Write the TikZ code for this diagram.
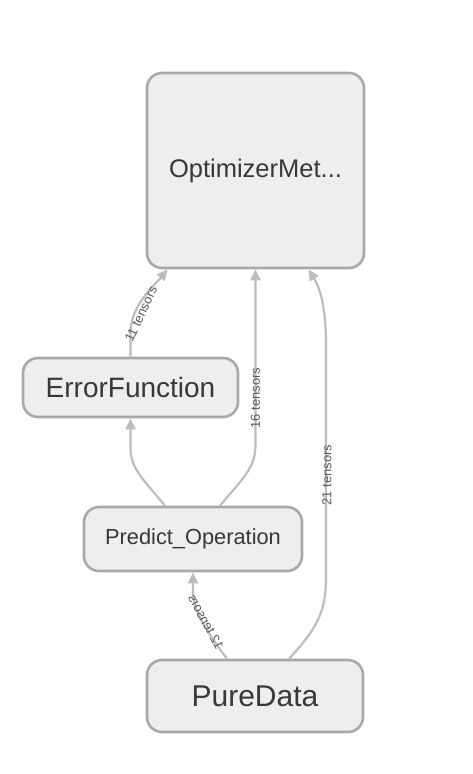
\documentclass[tikz,border=0pt]{standalone}
\usepackage{fontspec}
\setmainfont{Liberation Sans}
\usetikzlibrary{arrows.meta}
\definecolor{boxfill}{HTML}{EEEEEE}
\definecolor{boxline}{HTML}{A9A9A9}
\definecolor{edgecol}{HTML}{BDBDBD}
\definecolor{txtcol}{HTML}{383838}
\definecolor{lblcol}{HTML}{5A5A5A}
\tikzset{
  opbox/.style={draw=boxline, fill=boxfill, line width=2.6pt, rounded corners=15pt,
    text=txtcol, inner sep=0pt, anchor=center},
  flow/.style={draw=edgecol, line width=2.2pt,
    -{Triangle[length=11pt,width=10pt]}},
  elabel/.style={text=lblcol, inner sep=0pt, font=\fontsize{13}{13}\selectfont}
}
\begin{document}
\begin{tikzpicture}[x=1pt,y=-1pt]
\useasboundingbox[fill=white] (0,0) rectangle (472,774);
\node[opbox, minimum width=217pt, minimum height=195pt, font=\fontsize{25.5}{25.5}\selectfont] (opt) at (255.5,170.5) {OptimizerMet...};
\node[opbox, minimum width=215pt, minimum height=59pt, font=\fontsize{28}{28}\selectfont] (err) at (130.5,387.5) {ErrorFunction};
\node[opbox, minimum width=218pt, minimum height=64pt, font=\fontsize{21.8}{21.8}\selectfont] (pred) at (193,539) {Predict\_Operation};
\node[opbox, minimum width=216pt, minimum height=72pt, font=\fontsize{30}{30}\selectfont] (pure) at (255,696) {PureData};

% ErrorFunction -> Optimizer
\draw[flow] (err.north) -- (130.5,333) .. controls (130.5,305) and (155,285) .. ([xshift=-88pt]opt.south);
% Predict -> ErrorFunction
\draw[flow] ([xshift=-28pt]pred.north) .. controls (142,478) and (130.5,468) .. (130.5,448) -- (err.south);
% Predict -> Optimizer
\draw[flow] ([xshift=27pt]pred.north) .. controls (243,478) and (255.5,468) .. (255.5,445) -- (opt.south);
% PureData -> Optimizer
\draw[flow] ([xshift=34pt]pure.north) .. controls (318,628) and (326,610) .. (326,578) -- (326,345) .. controls (326,310) and (321,290) .. ([xshift=53pt]opt.south);
% PureData -> Predict
\draw[flow] ([xshift=-28pt]pure.north) .. controls (210,636) and (193,612) .. (193,592) -- (pred.south);

\node[elabel, rotate=65] (l11) at (141,314) {11 tensors};
\node[elabel, rotate=90] (l16) at (255.5,398) {16 tensors};
\node[elabel, rotate=90] (l21) at (327,475) {21 tensors};
\node[elabel, rotate=-62, xscale=-1] (l12) at (206,622) {12 tensors};
\end{tikzpicture}
\end{document}
